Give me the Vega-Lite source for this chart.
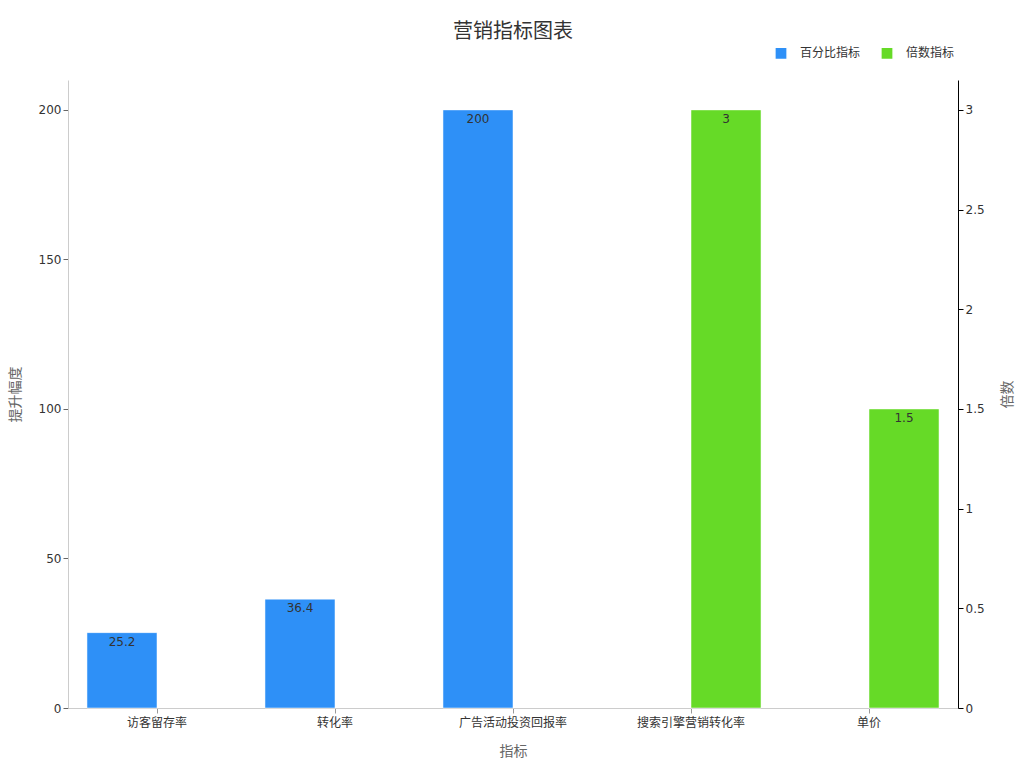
{
  "$schema": "https://vega.github.io/schema/vega-lite/v6.json",
  "width": 890,
  "height": 628,
  "autosize": "none",
  "padding": {"left": 68, "top": 80, "right": 66, "bottom": 60},
  "background": "white",
  "config": {
    "font": "DejaVu Sans, Noto Sans CJK SC",
    "view": {"stroke": null},
    "axis": {"grid": false, "labelFontSize": 12, "labelColor": "#333", "titleFontSize": 14, "titleColor": "#666", "titleFontWeight": "normal"}
  },
  "title": {
    "text": "营销指标图表",
    "fontSize": 20,
    "fontWeight": "normal",
    "color": "#333",
    "anchor": "middle",
    "offset": 4
  },
  "data": {
    "values": [
      {"指标": "访客留存率", "series": "百分比指标", "value": 25.2},
      {"指标": "转化率", "series": "百分比指标", "value": 36.4},
      {"指标": "广告活动投资回报率", "series": "百分比指标", "value": 200},
      {"指标": "搜索引擎营销转化率", "series": "倍数指标", "value": 3},
      {"指标": "单价", "series": "倍数指标", "value": 1.5}
    ]
  },
  "encoding": {
    "x": {
      "field": "指标",
      "type": "nominal",
      "sort": ["访客留存率", "转化率", "广告活动投资回报率", "搜索引擎营销转化率", "单价"],
      "scale": {"paddingInner": 0, "paddingOuter": 0},
      "axis": {"labelAngle": 0, "title": "指标", "domainColor": "#ccc", "tickColor": "#999", "tickSize": 5, "labelPadding": 4, "titlePadding": 16}
    },
    "xOffset": {
      "field": "series",
      "type": "nominal",
      "scale": {"domain": ["百分比指标", "倍数指标"], "paddingInner": 0, "paddingOuter": 0.271}
    },
    "color": {
      "field": "series",
      "type": "nominal",
      "scale": {"domain": ["百分比指标", "倍数指标"], "range": ["#2e90f7", "#66da27"]},
      "legend": {
        "title": null,
        "orient": "none",
        "direction": "horizontal",
        "legendX": 706,
        "legendY": -34,
        "symbolType": "square",
        "symbolSize": 150,
        "symbolOpacity": 1,
        "labelFontSize": 12,
        "labelColor": "#333",
        "labelOffset": 12,
        "columnPadding": 16
      }
    }
  },
  "layer": [
    {
      "transform": [{"filter": "datum.series == '百分比指标'"}],
      "encoding": {
        "y": {
          "field": "value",
          "type": "quantitative",
          "scale": {"domain": [0, 210], "nice": false},
          "axis": {"title": "提升幅度", "values": [0, 50, 100, 150, 200], "domainColor": "#ccc", "tickColor": "#666", "tickSize": 5, "titlePadding": 16}
        }
      },
      "layer": [
        {"mark": {"type": "bar", "stroke": "white", "strokeOpacity": 0.5, "strokeWidth": 1}},
        {
          "mark": {"type": "text", "baseline": "top", "dy": 4, "fontSize": 12, "color": "#333"},
          "encoding": {"text": {"field": "value", "type": "quantitative"}, "color": {"value": "#333"}}
        }
      ]
    },
    {
      "transform": [{"filter": "datum.series == '倍数指标'"}],
      "encoding": {
        "y": {
          "field": "value",
          "type": "quantitative",
          "scale": {"domain": [0, 3.15], "nice": false},
          "axis": {"orient": "right", "title": "倍数", "titleAngle": 270, "values": [0, 0.5, 1, 1.5, 2, 2.5, 3], "format": "~g", "domainColor": "#000", "tickColor": "#000", "tickSize": 5, "titlePadding": 30}
        }
      },
      "layer": [
        {"mark": {"type": "bar", "stroke": "white", "strokeOpacity": 0.5, "strokeWidth": 1}},
        {
          "mark": {"type": "text", "baseline": "top", "dy": 4, "fontSize": 12, "color": "#333"},
          "encoding": {"text": {"field": "value", "type": "quantitative"}, "color": {"value": "#333"}}
        }
      ]
    }
  ],
  "resolve": {"scale": {"y": "independent"}}
}
